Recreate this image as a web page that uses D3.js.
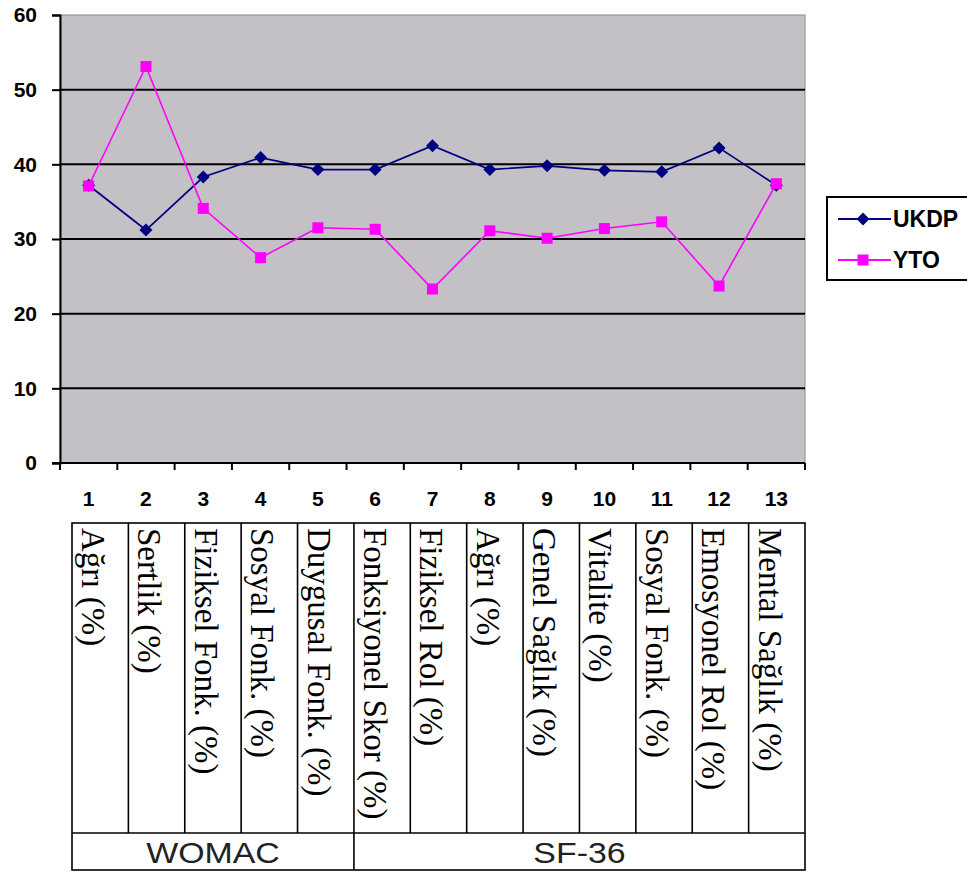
<!DOCTYPE html>
<html>
<head>
<meta charset="utf-8">
<script src="https://cdn.jsdelivr.net/npm/d3@7/dist/d3.min.js"></script>
<style>
  html, body { margin: 0; padding: 0; background: #ffffff; }
  svg { display: block; }
</style>
</head>
<body>
<svg id="chart" width="967" height="873"></svg>
<script>
// ---- data ----
const categories = ["1","2","3","4","5","6","7","8","9","10","11","12","13"];
const rowLabels = ["Ağrı (%)","Sertlik (%)","Fiziksel Fonk. (%)","Sosyal Fonk. (%)","Duygusal Fonk. (%)",
  "Fonksiyonel Skor (%)","Fiziksel Rol (%)","Ağrı (%)","Genel Sağlık (%)","Vitalite (%)",
  "Sosyal Fonk. (%)","Emosyonel Rol (%)","Mental Sağlık (%)"];
const groupNames = ["WOMAC","SF-36"];
const groupSpans = [5, 8];
const seriesNames = ["UKDP","YTO"];
const ukdp = [37.2, 31.2, 38.3, 40.9, 39.3, 39.3, 42.5, 39.3, 39.8, 39.2, 39.0, 42.2, 37.2];
const yto  = [37.1, 53.1, 34.1, 27.5, 31.5, 31.3, 23.3, 31.1, 30.1, 31.4, 32.3, 23.7, 37.4];
const yTicks = [0, 10, 20, 30, 40, 50, 60];

// ---- layout ----
const svg = d3.select("#chart");
const plot = {left: 60, right: 805, top: 15, bottom: 463};
const x = d3.scaleBand().domain(categories).range([plot.left, plot.right]).padding(0);
const y = d3.scaleLinear().domain([0, 60]).range([plot.bottom, plot.top]);

// plot background
svg.append("rect")
  .attr("x", plot.left).attr("y", plot.top)
  .attr("width", plot.right - plot.left).attr("height", plot.bottom - plot.top)
  .attr("fill", "#c3c1c5").attr("stroke", "#8c8c8c").attr("stroke-width", 1);

// grid lines
svg.append("g").selectAll("line")
  .data(yTicks.filter(d => d > 0 && d < 60))
  .join("line")
  .attr("x1", plot.left).attr("x2", plot.right)
  .attr("y1", d => y(d)).attr("y2", d => y(d))
  .attr("stroke", "#000").attr("stroke-width", 2);

// y axis
const yAxis = d3.axisLeft(y).tickValues(yTicks).tickSize(8).tickPadding(15).tickFormat(d3.format("d"));
const gy = svg.append("g").attr("transform", `translate(${plot.left},0)`).call(yAxis);
gy.select(".domain").attr("stroke", "#000").attr("stroke-width", 2);
gy.selectAll(".tick line").attr("stroke", "#000").attr("stroke-width", 2);
gy.selectAll(".tick text")
  .attr("font-family", "Liberation Sans, Arial, sans-serif")
  .attr("font-weight", "bold").attr("font-size", 21).attr("fill", "#000");

// x axis (ticks between categories)
const boundaries = categories.map(c => x(c)).concat([plot.right]);
svg.append("line")
  .attr("x1", plot.left - 8).attr("x2", plot.right)
  .attr("y1", plot.bottom).attr("y2", plot.bottom)
  .attr("stroke", "#000").attr("stroke-width", 2);
svg.append("g").selectAll("line").data(boundaries).join("line")
  .attr("x1", d => d).attr("x2", d => d)
  .attr("y1", plot.bottom).attr("y2", plot.bottom + 7)
  .attr("stroke", "#000").attr("stroke-width", 2);
svg.append("g").selectAll("text").data(categories).join("text")
  .attr("x", d => x(d) + x.bandwidth() / 2)
  .attr("y", 506)
  .attr("text-anchor", "middle")
  .attr("font-family", "Liberation Sans, Arial, sans-serif")
  .attr("font-weight", "bold").attr("font-size", 21).attr("fill", "#000")
  .text(d => d);

// series
const cx = (d, i) => x(categories[i]) + x.bandwidth() / 2;
const line = d3.line().x((d, i) => cx(d, i)).y(d => y(d));
const colors = {UKDP: "#000080", YTO: "#ff00ff"};

svg.append("path").datum(ukdp).attr("d", line)
  .attr("fill", "none").attr("stroke", colors.UKDP).attr("stroke-width", 1.7);
svg.append("path").datum(yto).attr("d", line)
  .attr("fill", "none").attr("stroke", colors.YTO).attr("stroke-width", 1.6);

const dr = 6.5;
const diamondPath = `M0,${-dr}L${dr},0L0,${dr}L${-dr},0Z`;
svg.append("g").selectAll("path").data(ukdp).join("path")
  .attr("d", diamondPath)
  .attr("transform", (d, i) => `translate(${cx(d, i)},${y(d)})`)
  .attr("fill", colors.UKDP);

const sq = 11;
svg.append("g").selectAll("rect").data(yto).join("rect")
  .attr("x", (d, i) => cx(d, i) - sq / 2).attr("y", d => y(d) - sq / 2)
  .attr("width", sq).attr("height", sq)
  .attr("fill", colors.YTO);

// legend
const leg = svg.append("g");
leg.append("rect").attr("x", 827).attr("y", 197).attr("width", 200).attr("height", 83)
  .attr("fill", "#fff").attr("stroke", "#000").attr("stroke-width", 2);
const legY = [219, 260];
seriesNames.forEach((name, i) => {
  leg.append("line").attr("x1", 838).attr("x2", 891).attr("y1", legY[i]).attr("y2", legY[i])
    .attr("stroke", colors[name]).attr("stroke-width", 1.8);
  if (name === "UKDP") {
    leg.append("path").attr("d", diamondPath).attr("transform", `translate(863,${legY[i]})`).attr("fill", colors[name]);
  } else {
    leg.append("rect").attr("x", 863 - sq / 2).attr("y", legY[i] - sq / 2).attr("width", sq).attr("height", sq).attr("fill", colors[name]);
  }
  leg.append("text").attr("x", 893).attr("y", legY[i] + 8)
    .attr("font-family", "Liberation Sans, Arial, sans-serif")
    .attr("font-weight", "bold").attr("font-size", 23).attr("fill", "#000")
    .text(name);
});

// table
const tbl = {left: 72, right: 805, top: 523, mid: 833, bottom: 870};
const tx = d3.scaleBand().domain(categories).range([tbl.left, tbl.right]).padding(0);
const tg = svg.append("g");
tg.append("rect").attr("x", tbl.left).attr("y", tbl.top)
  .attr("width", tbl.right - tbl.left).attr("height", tbl.bottom - tbl.top)
  .attr("fill", "#fff").attr("stroke", "#000").attr("stroke-width", 1.6);
tg.append("line").attr("x1", tbl.left).attr("x2", tbl.right).attr("y1", tbl.mid).attr("y2", tbl.mid)
  .attr("stroke", "#000").attr("stroke-width", 1.6);
tg.selectAll("line.col").data(categories.slice(1)).join("line").attr("class", "col")
  .attr("x1", d => tx(d)).attr("x2", d => tx(d))
  .attr("y1", tbl.top).attr("y2", tbl.mid)
  .attr("stroke", "#000").attr("stroke-width", 1.6);
tg.selectAll("text.lab").data(rowLabels).join("text").attr("class", "lab")
  .attr("transform", (d, i) => `translate(${tx(categories[i]) + 10},${tbl.top + 5}) rotate(90)`)
  .attr("font-family", "Liberation Serif, Times New Roman, serif")
  .attr("font-size", 33).attr("fill", "#000")
  .text(d => d);

// group row
let start = 0;
groupNames.forEach((g, i) => {
  const x0 = tx(categories[start]);
  const endIdx = start + groupSpans[i];
  const x1 = endIdx < categories.length ? tx(categories[endIdx]) : tbl.right;
  if (endIdx < categories.length) {
    tg.append("line").attr("x1", x1).attr("x2", x1).attr("y1", tbl.mid).attr("y2", tbl.bottom)
      .attr("stroke", "#000").attr("stroke-width", 1.6);
  }
  tg.append("text")
    .attr("transform", `translate(${(x0 + x1) / 2},${tbl.bottom - 7}) scale(1.13,1)`)
    .attr("text-anchor", "middle")
    .attr("font-family", "Liberation Sans, Arial, sans-serif")
    .attr("font-size", 30).attr("fill", "#222")
    .text(g);
  start = endIdx;
});
</script>
</body>
</html>
